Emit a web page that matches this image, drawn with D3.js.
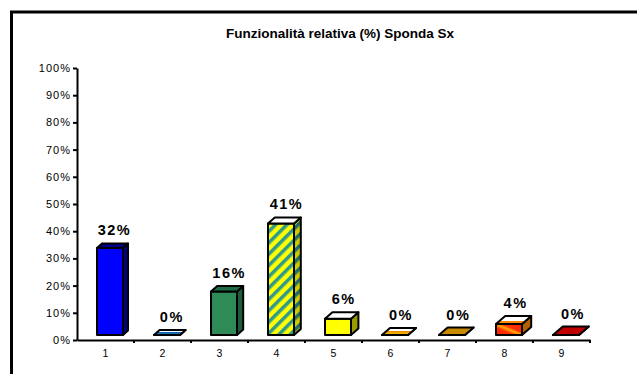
<!DOCTYPE html>
<html>
<head>
<meta charset="utf-8">
<script src="https://cdn.jsdelivr.net/npm/d3@7"></script>
<style>
  body { margin: 0; background: #fff; }
  svg { display: block; font-family: "Liberation Sans", Arial, sans-serif; }
</style>
</head>
<body>
<div id="chart"></div>
<script>
// Data
let title = "Funzionalità relativa (%) Sponda Sx";
let categories = ["1", "2", "3", "4", "5", "6", "7", "8", "9"];
let values = [32, 0, 16, 41, 6, 0, 0, 4, 0];
let valueLabels = ["32%", "0%", "16%", "41%", "6%", "0%", "0%", "4%", "0%"];
let yTicks = [0, 10, 20, 30, 40, 50, 60, 70, 80, 90, 100];

// Colours of each column (front, side, top)
let frontColors = ["#0000ff", "#1a5fa0", "#2e8b57", "url(#stripes)", "#ffff00", "#e8a000", "#c88a00", "url(#redGrad)", "#c00000"];
let sideColors = ["#000080", "#1a5fa0", "#1d5c3a", "url(#stripesDark)", "#999900", "#e8a000", "#c88a00", "#b06000", "#c00000"];
let topColors = ["#000090", "url(#flatBlue)", "#1f6b45", "#ffffff", "#ffffff", "url(#flatOrange)", "#c88a00", "url(#topRed)", "#c00000"];

// Dimensions
let width = 637;
let height = 374;
let margin = { top: 68, right: 47, bottom: 34, left: 77 };

let svg = d3.select("#chart").append("svg").attr("width", width).attr("height", height);

// Patterns and gradients
let defs = svg.append("defs");

let stripes = defs.append("pattern")
  .attr("id", "stripes")
  .attr("patternUnits", "userSpaceOnUse")
  .attr("width", 8).attr("height", 8)
  .attr("patternTransform", "rotate(45)");
stripes.append("rect").attr("width", 8).attr("height", 8).attr("fill", "#ffff00");
stripes.append("rect").attr("width", 3.5).attr("height", 8).attr("fill", "#2f9a8a");

let stripesDark = defs.append("pattern")
  .attr("id", "stripesDark")
  .attr("patternUnits", "userSpaceOnUse")
  .attr("width", 8).attr("height", 8)
  .attr("patternTransform", "rotate(45)");
stripesDark.append("rect").attr("width", 8).attr("height", 8).attr("fill", "#cccc00");
stripesDark.append("rect").attr("width", 3.5).attr("height", 8).attr("fill", "#1f6f66");

let redGrad = defs.append("linearGradient")
  .attr("id", "redGrad")
  .attr("x1", "0").attr("y1", "1").attr("x2", "1").attr("y2", "0");
[["0", "#ff1a00"], ["0.35", "#ff3300"], ["0.5", "#ffaa00"], ["0.62", "#ff3300"], ["1", "#ff1a00"]]
  .forEach(([o, c]) => redGrad.append("stop").attr("offset", o).attr("stop-color", c));

let topRed = defs.append("linearGradient")
  .attr("id", "topRed").attr("x1", "0").attr("y1", "0").attr("x2", "0").attr("y2", "1");
[["0", "#ffffff"], ["0.55", "#ffffff"], ["0.6", "#ff8800"], ["1", "#ff8800"]]
  .forEach(([o, c]) => topRed.append("stop").attr("offset", o).attr("stop-color", c));

let flatBlue = defs.append("linearGradient")
  .attr("id", "flatBlue").attr("x1", "0").attr("y1", "0").attr("x2", "0").attr("y2", "1");
[["0", "#ffffff"], ["0.45", "#ffffff"], ["0.5", "#1060c0"], ["1", "#2a9a70"]]
  .forEach(([o, c]) => flatBlue.append("stop").attr("offset", o).attr("stop-color", c));

let flatOrange = defs.append("linearGradient")
  .attr("id", "flatOrange").attr("x1", "0").attr("y1", "0").attr("x2", "0").attr("y2", "1");
[["0", "#ffffff"], ["0.45", "#ffffff"], ["0.5", "#e89000"], ["1", "#ffcc00"]]
  .forEach(([o, c]) => flatOrange.append("stop").attr("offset", o).attr("stop-color", c));

// Frame
svg.append("rect")
  .attr("x", 11.5).attr("y", 12)
  .attr("width", width + 20).attr("height", height + 20)
  .attr("fill", "none").attr("stroke", "#000").attr("stroke-width", 3);

// Title
svg.append("text")
  .attr("x", 340).attr("y", 38)
  .attr("text-anchor", "middle")
  .attr("font-size", "13.5px").attr("font-weight", "bold")
  .text(title);

// Scales
let xScale = d3.scaleBand()
  .domain(categories)
  .range([margin.left, width - margin.right]);

let yScale = d3.scaleLinear()
  .domain([0, 100])
  .range([height - margin.bottom, margin.top]);

// Y axis
let yAxisG = svg.append("g")
  .attr("transform", `translate(${margin.left},0)`)
  .call(d3.axisLeft(yScale).tickValues(yTicks).tickSize(4).tickSizeOuter(0).tickPadding(3).tickFormat((d) => `${d}%`));
yAxisG.select(".domain").attr("stroke-width", 2);
yAxisG.selectAll(".tick line").attr("stroke-width", 2);
yAxisG.selectAll(".tick text")
  .attr("font-size", "11px").attr("letter-spacing", "1px")
  .attr("font-family", "Liberation Sans, Arial, sans-serif")
  .attr("fill", "#000").attr("dx", "1px");

// X axis
let xAxisG = svg.append("g")
  .attr("transform", `translate(0,${yScale(0)})`)
  .call(d3.axisBottom(xScale).tickSize(0).tickSizeOuter(0).tickPadding(10));
xAxisG.select(".domain").attr("stroke-width", 2);
xAxisG.selectAll(".tick text")
  .attr("font-size", "10.5px")
  .attr("font-family", "Liberation Sans, Arial, sans-serif")
  .attr("fill", "#000");

// Category separator ticks
xAxisG.selectAll(".sep")
  .data(categories)
  .join("line")
  .attr("class", "sep")
  .attr("x1", (d) => xScale(d) + xScale.bandwidth())
  .attr("x2", (d) => xScale(d) + xScale.bandwidth())
  .attr("y1", 0).attr("y2", 3)
  .attr("stroke", "#000").attr("stroke-width", 2);

// 3D columns
let barOffset = 20;
let barWidth = 26;
let floorGap = 5;
let depthX = (i) => 5 + 0.6 * i;
let depthY = (i) => 4.5 + 0.5 * i;

let bars = categories.map((c, i) => {
  let x0 = xScale(c) + barOffset;
  let x1 = x0 + barWidth;
  let yb = yScale(0) - floorGap;
  let yt = yScale(values[i]) - floorGap;
  let dx = depthX(i);
  let dy = depthY(i);
  return { i, x0, x1, yb, yt, dx, dy };
});

let barG = svg.append("g")
  .selectAll("g")
  .data(bars)
  .join("g")
  .attr("stroke", "#000")
  .attr("stroke-width", 2)
  .attr("stroke-linejoin", "round");

// side face
barG.append("polygon")
  .attr("points", (d) => [
    [d.x1, d.yb], [d.x1 + d.dx, d.yb - d.dy], [d.x1 + d.dx, d.yt - d.dy], [d.x1, d.yt]
  ].join(" "))
  .attr("fill", (d) => sideColors[d.i]);

// front face
barG.append("polygon")
  .attr("points", (d) => [
    [d.x0, d.yb], [d.x1, d.yb], [d.x1, d.yt], [d.x0, d.yt]
  ].join(" "))
  .attr("fill", (d) => frontColors[d.i]);

// top face
barG.append("polygon")
  .attr("points", (d) => [
    [d.x0, d.yt], [d.x1, d.yt], [d.x1 + d.dx, d.yt - d.dy], [d.x0 + d.dx, d.yt - d.dy]
  ].join(" "))
  .attr("fill", (d) => topColors[d.i]);

// Value labels
svg.append("g")
  .selectAll("text")
  .data(bars)
  .join("text")
  .attr("x", (d) => (d.x0 + d.x1 + d.dx) / 2 + 2)
  .attr("y", (d) => d.yt - d.dy - 8)
  .attr("text-anchor", "middle")
  .attr("font-size", "14.5px")
  .attr("font-weight", "bold")
  .attr("letter-spacing", "1.5px")
  .text((d) => valueLabels[d.i]);
</script>
</body>
</html>
